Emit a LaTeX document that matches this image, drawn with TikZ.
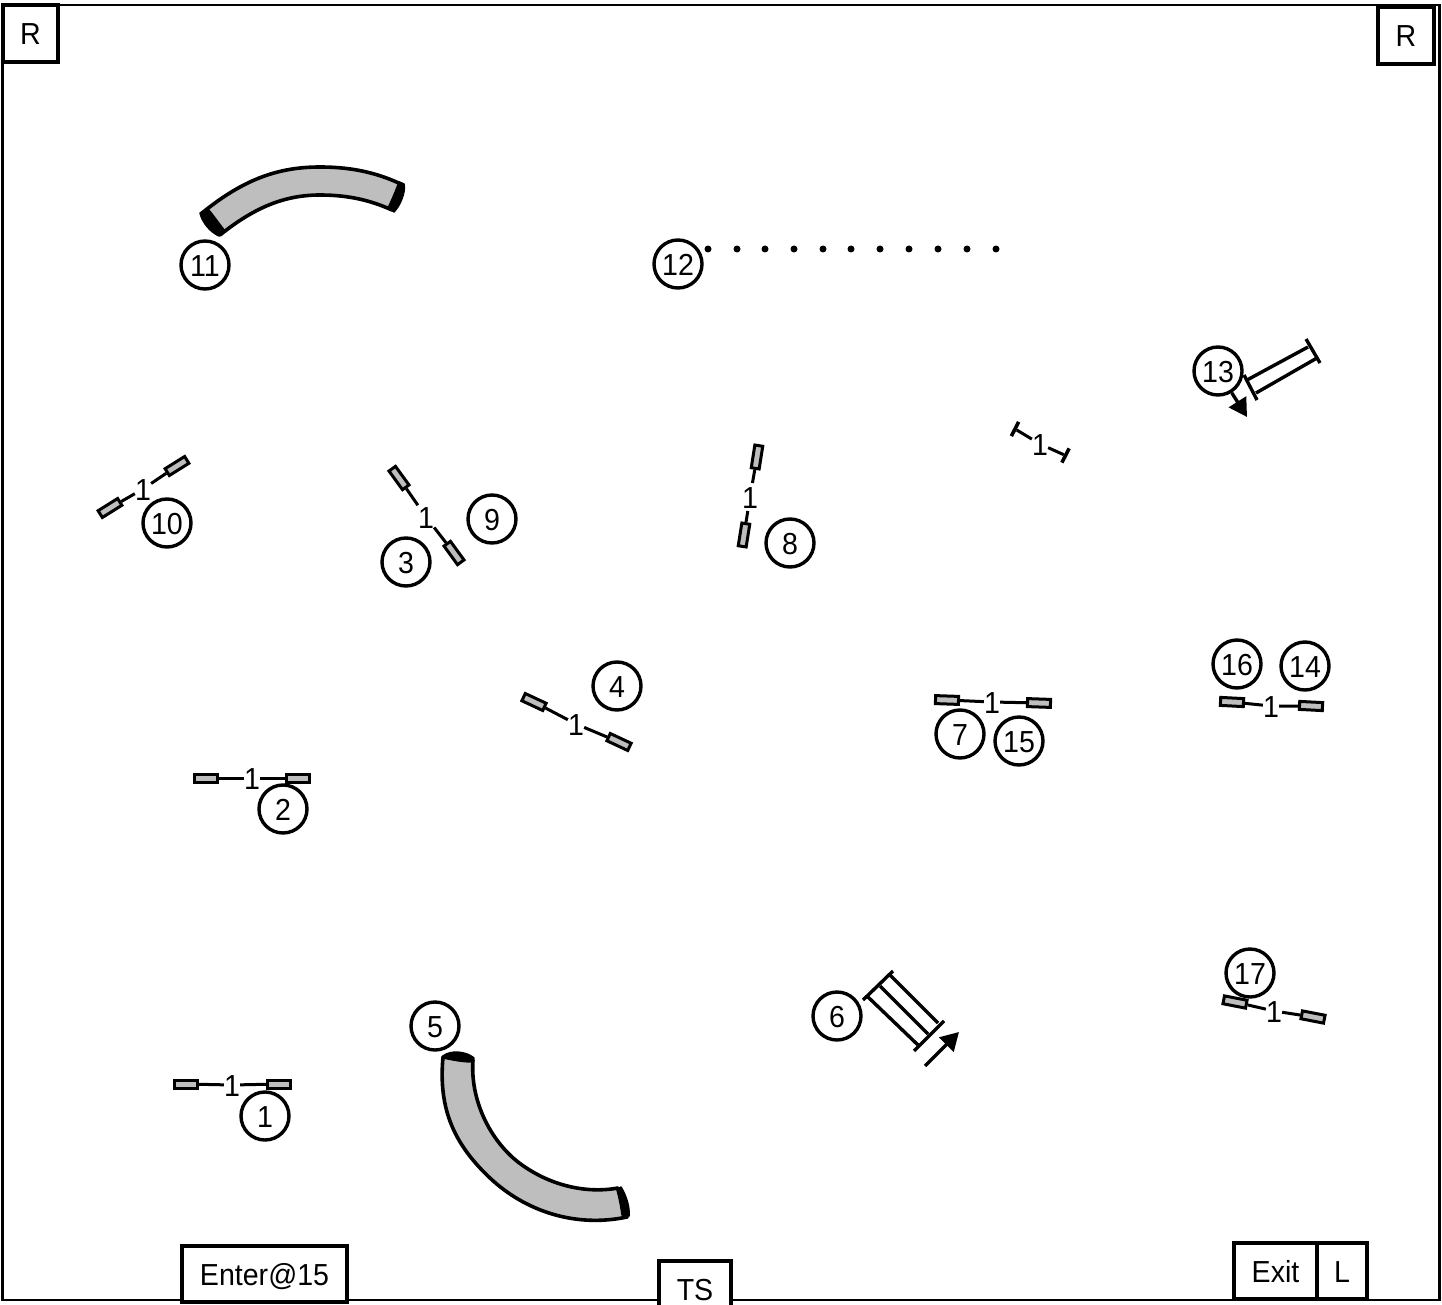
\documentclass[tikz,border=0pt]{standalone}
\usepackage{fontspec}
\setmainfont[FakeStretch=0.94]{Liberation Sans}
\usetikzlibrary{arrows.meta}
\definecolor{tunnelgray}{HTML}{BEBEBE}
\tikzset{
  every node/.style={font=\fontsize{30.4}{32}\selectfont,text height=22.6pt,text depth=0pt},
  numcirc/.style={circle,draw,line width=3.4pt,fill=white,minimum size=48pt,inner sep=0pt},
  signbox/.style={rectangle,draw,line width=3.4pt,fill=white,inner sep=0pt},
  wing/.style={rectangle,draw,line width=3pt,fill=tunnelgray,minimum width=23pt,minimum height=8pt,inner sep=0pt,text height=0pt},
  tbar/.style={rectangle,fill=black,minimum width=16pt,minimum height=3.6pt,inner sep=0pt,text height=0pt},
  heightone/.style={inner xsep=0pt,inner ysep=2.5pt},
  conn/.style={line width=3pt},
  rail/.style={line width=3.4pt},
  tube/.style={draw=black,line width=3.6pt,fill=tunnelgray,line join=round},
  tubecap/.style={draw=black,line width=1.5pt,fill=black,line join=round},
  pole/.style={circle,fill=black,minimum size=7pt,inner sep=0pt,text height=0pt},
  dirarrow/.style={line width=3.4pt,-{Triangle[length=18pt,width=20pt]}},
}
% name, x1,y1, x2,y2, lx,ly, angle
\newcommand{\jumpat}[8]{%
  \node[wing,rotate=#8] (#1a) at (#2,#3) {};
  \node[wing,rotate=#8] (#1b) at (#4,#5) {};
  \node[heightone] (#1l) at (#6,#7) {1};
  \draw[conn] (#1a) -- (#1l);
  \draw[conn] (#1l) -- (#1b);
}
\begin{document}
\begin{tikzpicture}[x=1pt,y=-1pt]
\path[use as bounding box] (0,0) rectangle (1442,1305);
\clip (0,0) rectangle (1442,1305);
\fill[white] (0,0) rectangle (1442,1305);
% ring
\draw[line width=2.8pt] (2.5,1300) -- (2.5,5) -- (1439.5,5) -- (1439.5,1300) -- cycle;

% tunnel 11
\path[tube] (202,213) .. controls (245,178) and (280,167) .. (320,167)
  .. controls (355,167) and (380,174) .. (403,185)
  -- (392,210) .. controls (372,201) and (350,195) .. (320,195)
  .. controls (285,195) and (255,207) .. (220,235) -- cycle;
\path[tubecap] (200,213) .. controls (202,222) and (210,232) .. (219,236)
  -- (225,231) .. controls (220,225) and (214,216) .. (208,209) -- cycle;
\path[tubecap] (404,184) .. controls (406,192) and (400,206) .. (394,212)
  -- (388,208) .. controls (392,200) and (396,190) .. (399,182) -- cycle;

% tunnel 5
\path[tube] (443,1057) .. controls (438,1110) and (455,1145) .. (490,1178)
  .. controls (525,1211) and (575,1228) .. (627,1217)
  -- (618,1188) .. controls (585,1194) and (548,1185) .. (518,1162)
  .. controls (490,1140) and (470,1100) .. (473,1060) -- cycle;
\path[tubecap] (443,1056) .. controls (450,1050) and (466,1051) .. (474,1058)
  -- (473,1062) .. controls (463,1062) and (452,1060) .. (444,1058) -- cycle;
\path[tubecap] (621,1187) .. controls (626,1195) and (630,1207) .. (629,1216)
  -- (622,1215) .. controls (621,1207) and (619,1197) .. (617,1190) -- cycle;

% weave poles
\foreach \k [count=\i] in {708,737,765,794,823,851,880,909,938,967,996}
  \node[pole] (pole\i) at (\k,249) {};

% jumps
\jumpat{jten}{110}{508}{177}{466}{143}{489}{32}
\jumpat{jnine}{399}{478}{454}{553}{426}{517}{-54}
\jumpat{jeight}{757}{457}{744}{535}{750}{497}{81}
\jumpat{jfour}{534}{702}{619}{742}{576}{724}{-25}
\jumpat{jtwo}{206}{778}{298}{778}{252}{778}{0}
\jumpat{jone}{186}{1084}{279}{1084}{232}{1085}{0}
\jumpat{jseven}{947}{700}{1039}{703}{992}{702}{-2}
\jumpat{jsixteen}{1232}{702}{1311}{706}{1271}{706}{-3}
\jumpat{jseventeen}{1235}{1002}{1313}{1017}{1274}{1011}{-11}

% bar-only jump
\node[tbar,rotate=63] (wa) at (1015,429) {};
\node[tbar,rotate=63] (wb) at (1065.5,455.5) {};
\node[heightone] (wl) at (1040,444) {1};
\draw[conn] (wa) -- (wl);
\draw[conn] (wl) -- (wb);

% frame 13
\draw[rail] (1247,380) -- (1308,347);
\draw[rail] (1256,393) -- (1317,358);
\draw[rail] (1244,375) -- (1257,400);
\draw[rail] (1306,339) -- (1320,363);

% frame 6
\draw[rail] (868,997) -- (918,1045);
\draw[rail] (880,986) -- (928,1034);
\draw[rail] (890,975) -- (938,1023);
\draw[rail] (863,1000) -- (893,971);
\draw[rail] (914,1051) -- (944,1021);

% numbers
\node[numcirc] (n1) at (265,1116) {1};
\node[numcirc] (n2) at (283,809) {2};
\node[numcirc] (n3) at (406,562) {3};
\node[numcirc] (n4) at (617,686) {4};
\node[numcirc] (n5) at (435,1026) {5};
\node[numcirc] (n6) at (837,1016) {6};
\node[numcirc] (n7) at (960,734) {7};
\node[numcirc] (n8) at (790,543) {8};
\node[numcirc] (n9) at (492,519) {9};
\node[numcirc] (n10) at (167,523) {10};
\node[numcirc] (n11) at (205,265) {11};
\node[numcirc] (n12) at (678,264) {12};
\node[numcirc] (n13) at (1218,371) {13};
\node[numcirc] (n14) at (1305,666) {14};
\node[numcirc] (n15) at (1019,741) {15};
\node[numcirc] (n16) at (1237,664) {16};
\node[numcirc] (n17) at (1250,973) {17};

% direction arrows
\coordinate (tipa) at (1247,417);
\draw[dirarrow] (n13) -- (tipa);
\coordinate (taila) at (925,1066);
\coordinate (tipb) at (959,1032);
\draw[dirarrow] (taila) -- (tipb);

% boxes
\node[signbox,minimum width=55pt,minimum height=57pt] (rl) at (30.5,33.5) {R};
\node[signbox,minimum width=56pt,minimum height=57pt] (rr) at (1406,35.5) {R};
\node[signbox,minimum width=165pt,minimum height=56pt] (enter) at (264.5,1274) {Enter@15};
\node[signbox,minimum width=72pt,minimum height=56pt] (ts) at (695,1289) {TS};
\node[signbox,minimum width=83pt,minimum height=56pt] (exit) at (1275.5,1271) {Exit};
\node[signbox,minimum width=50pt,minimum height=56pt] (lbox) at (1342,1271) {L};
\end{tikzpicture}
\end{document}
